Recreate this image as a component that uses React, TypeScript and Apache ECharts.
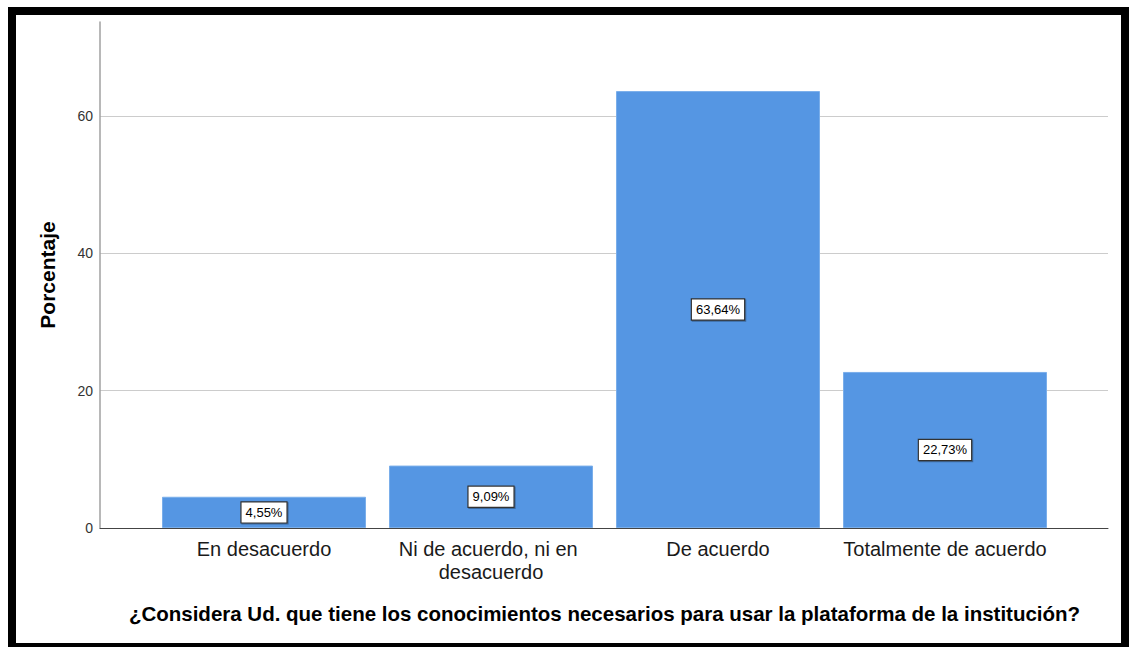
import React, { useEffect, useRef } from "react";
import * as echarts from "echarts";

const categories = [
  "En desacuerdo",
  "Ni de acuerdo, ni en desacuerdo",
  "De acuerdo",
  "Totalmente de acuerdo",
];
const percentages = [4.55, 9.09, 63.64, 22.73];
const yTicks = { min: 0, max: 73.7, interval: 20 };
const yAxisTitle = "Porcentaje";
const xAxisTitle =
  "¿Considera Ud. que tiene los conocimientos necesarios para usar la plataforma de la institución?";

const FONT = "'Liberation Sans', Arial, sans-serif";

export default function App() {
  const ref = useRef<HTMLDivElement>(null);
  useEffect(() => {
    if (!ref.current) return;
    const chart = echarts.init(ref.current, undefined, { renderer: "svg" });
    chart.setOption({
      animation: false,
      backgroundColor: "#ffffff",
      textStyle: { fontFamily: FONT },
      grid: [
        { left: 100, top: 22, width: 1008, height: 506 },
        { left: 150.5, top: 22, width: 908, height: 506 },
      ],
      xAxis: [
        {
          gridIndex: 0,
          type: "value",
          min: 0,
          max: 1,
          axisLine: { show: true, lineStyle: { color: "#444", width: 1 } },
          axisTick: { show: false },
          axisLabel: { show: false },
          splitLine: { show: false },
        },
        {
          gridIndex: 1,
          type: "category",
          data: categories,
          axisLine: { show: false },
          axisTick: { show: false },
          axisLabel: {
            fontFamily: FONT,
            fontSize: 20,
            color: "#1a1a1a",
            margin: 9,
            width: 225,
            overflow: "break",
            lineHeight: 23,
            interval: 0,
          },
          name: xAxisTitle,
          nameLocation: "middle",
          nameGap: 75,
          nameTextStyle: {
            fontFamily: FONT,
            fontSize: 20.5,
            fontWeight: "bold",
            color: "#000",
          },
        },
      ],
      yAxis: [
        {
          gridIndex: 0,
          type: "value",
          min: yTicks.min,
          max: yTicks.max,
          interval: yTicks.interval,
          axisLine: { show: true, lineStyle: { color: "#a0a0a0", width: 1.5 } },
          axisTick: { show: false },
          axisLabel: {
            fontFamily: FONT,
            fontSize: 14,
            color: "#333",
            margin: 7,
            showMaxLabel: false,
          },
          splitLine: {
            show: true,
            showMaxLine: false,
            showMinLine: false,
            lineStyle: { color: "#cccccc", width: 1 },
          },
          name: yAxisTitle,
          nameLocation: "middle",
          nameGap: 42,
          nameTextStyle: {
            fontFamily: FONT,
            fontSize: 21,
            fontWeight: "bold",
            color: "#000",
          },
        },
        {
          gridIndex: 1,
          type: "value",
          min: yTicks.min,
          max: yTicks.max,
          interval: yTicks.interval,
          show: false,
          splitLine: { show: false },
        },
      ],
      series: [
        {
          type: "bar",
          xAxisIndex: 1,
          yAxisIndex: 1,
          data: percentages,
          barWidth: 204,
          itemStyle: { color: "#5596e3", borderColor: "#7aaeea", borderWidth: 1 },
          label: {
            show: true,
            position: "inside",
            formatter: (p: any) => p.value.toFixed(2).replace(".", ",") + "%",
            fontFamily: FONT,
            fontSize: 13,
            color: "#000",
            backgroundColor: "#ffffff",
            borderColor: "#333",
            borderWidth: 1.2,
            padding: [4, 4, 3, 4],
            shadowColor: "rgba(0,0,0,0.3)",
            shadowOffsetX: 1,
            shadowOffsetY: 1,
          },
        },
      ],
      graphic: [
        { type: "rect", shape: { x: 8, y: 7, width: 1121, height: 8 }, style: { fill: "#000" } },
        { type: "rect", shape: { x: 8, y: 7, width: 8, height: 640 }, style: { fill: "#000" } },
        { type: "rect", shape: { x: 1121, y: 7, width: 8, height: 640 }, style: { fill: "#000" } },
        { type: "rect", shape: { x: 8, y: 643, width: 1121, height: 4 }, style: { fill: "#000" } },
      ],
    });
    return () => chart.dispose();
  }, []);
  return (
    <div
      ref={ref}
      style={{ position: "absolute", left: 0, top: 0, width: 1129, height: 647, background: "#fff" }}
    />
  );
}
